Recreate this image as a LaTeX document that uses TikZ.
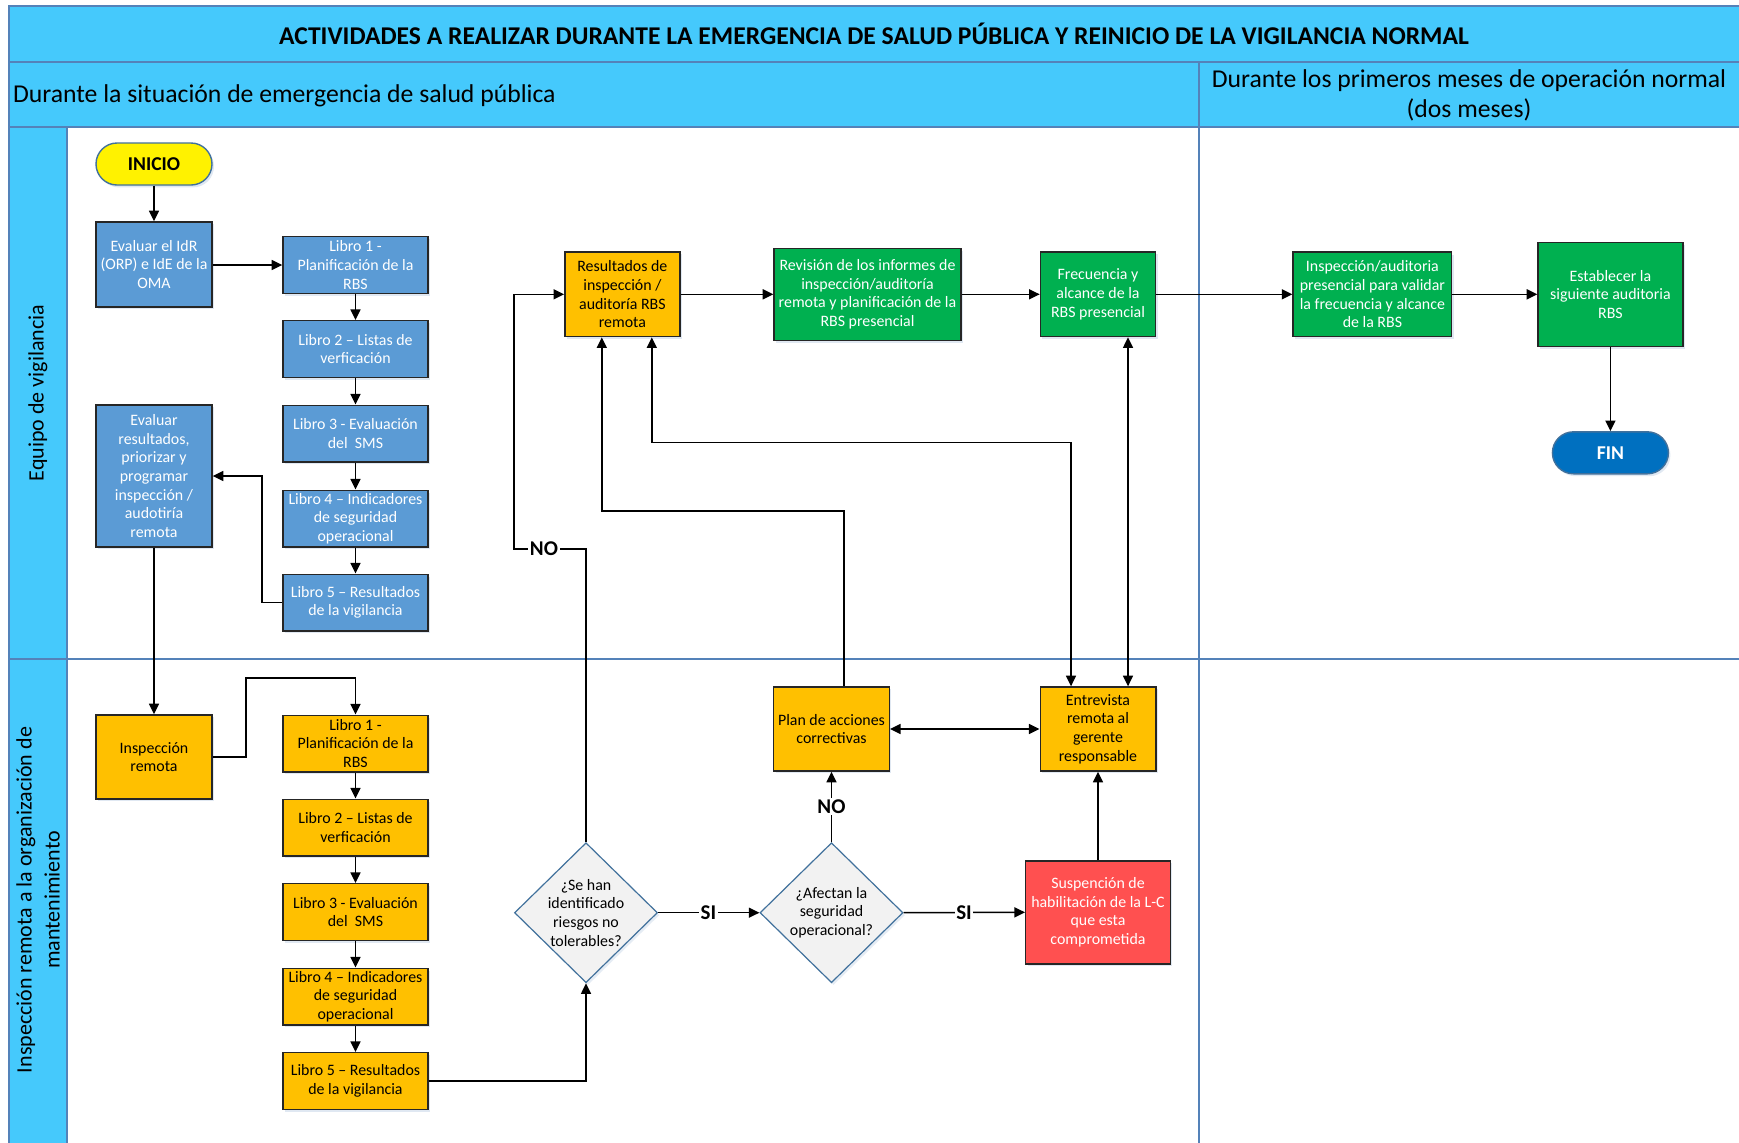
\documentclass[tikz,border=0pt]{standalone}
\usepackage{fontspec}
\setmainfont{Carlito}
\usetikzlibrary{arrows.meta,shapes.geometric,shadows}

\definecolor{hdr}{RGB}{69,201,252}
\definecolor{frameblue}{RGB}{84,130,185}
\definecolor{bluebox}{RGB}{91,155,213}
\definecolor{amber}{RGB}{255,192,0}
\definecolor{greenbox}{RGB}{0,176,80}
\definecolor{redbox}{RGB}{255,80,80}
\definecolor{finblue}{RGB}{0,112,192}
\definecolor{decfill}{RGB}{242,242,242}
\definecolor{decline}{RGB}{65,113,156}

\tikzset{
  boxbase/.style={rectangle, draw=black!85, line width=0.7pt, align=center,
    inner sep=0.5pt, font=\fontsize{7.95}{9.3}\selectfont,
    drop shadow={shadow xshift=1pt, shadow yshift=-1.2pt, opacity=0.18, fill=frameblue}},
  bluebx/.style={boxbase, fill=bluebox, text=white},
  ambbx/.style={boxbase, fill=amber, text=black},
  grnbx/.style={boxbase, fill=greenbox, text=white},
  redbx/.style={boxbase, fill=redbox, text=white},
  libro/.style={minimum width=72.5pt, minimum height=28.3pt},
  terminal/.style={rectangle, rounded corners=10.5pt, line width=0.7pt, draw=decline,
    minimum width=58pt, minimum height=21pt, font=\bfseries\fontsize{9.8}{11}\selectfont,
    drop shadow={shadow xshift=1pt, shadow yshift=-1.2pt, opacity=0.18, fill=frameblue}},
  decision/.style={diamond, draw=decline, line width=0.6pt, fill=decfill, inner sep=0pt,
    minimum width=71.5pt, minimum height=70pt,
    drop shadow={shadow xshift=1pt, shadow yshift=-1.2pt, opacity=0.15, fill=frameblue}},
  dectext/.style={align=center, font=\fontsize{7.95}{9.3}\selectfont, inner sep=0pt},
  arr/.style={draw=black, line width=0.75pt, -{Triangle[length=5.3pt,width=5pt]}},
  arrtwo/.style={draw=black, line width=0.75pt, {Triangle[length=5.3pt,width=5pt]}-{Triangle[length=5.3pt,width=5pt]}},
  lbl/.style={fill=white, inner sep=0.8pt, font=\bfseries\fontsize{10.5}{12}\selectfont},
  lanetxt/.style={rotate=90, align=center, font=\fontsize{11}{14}\selectfont},
  grid/.style={draw=frameblue, line width=1pt}
}

\begin{document}
\begin{tikzpicture}[x=0.5pt, y=-0.5pt]
\useasboundingbox (0,0) rectangle (1739,1142);

% ---- swimlane frame (runs past the right and bottom edges) ----
\fill[white] (0,0) rectangle (1739,1142);
\fill[hdr] (9,6) rectangle (1750,127);
\fill[hdr] (9,127) rectangle (67,1150);
\draw[grid] (1750,6) -- (9,6) -- (9,1150);
\draw[grid] (9,62) -- (1750,62);
\draw[grid] (9,127) -- (1750,127);
\draw[grid] (9,659) -- (1750,659);
\draw[grid] (67,127) -- (67,1150);
\draw[grid] (1199,62) -- (1199,1150);

% ---- headings ----
\node[font=\bfseries\fontsize{12.8}{15}\selectfont] (title) at (874,34)
  {ACTIVIDADES A REALIZAR DURANTE LA EMERGENCIA DE SALUD PÚBLICA Y REINICIO DE LA VIGILANCIA NORMAL};
\node[anchor=west, font=\fontsize{12.85}{15}\selectfont] (phaseA) at (6,96)
  {Durante la situación de emergencia de salud pública};
\node[align=center, font=\fontsize{12.85}{15}\selectfont] (phaseB) at (1469,95)
  {Durante los primeros meses de operación normal\\(dos meses)};
\node[lanetxt] (laneA) at (38,393) {Equipo de vigilancia};
\node[lanetxt] (laneB) at (38,900) {Inspección remota a la organización de\\mantenimiento};

% ---- surveillance team lane ----
\node[terminal, fill=yellow] (inicio) at (154,164) {INICIO};
\node[bluebx, minimum width=58pt, minimum height=42.5pt] (evalidr) at (154,264.5)
  {Evaluar el IdR\\(ORP) e IdE de la\\OMA};
\node[bluebx, libro] (b1) at (355.5,265) {Libro 1 -\\Planificación de la\\RBS};
\node[bluebx, libro] (b2) at (355.5,349) {Libro 2 – Listas de\\verficación};
\node[bluebx, libro] (b3) at (355.5,433.5) {Libro 3 - Evaluación\\del \ SMS};
\node[bluebx, libro] (b4) at (355.5,518.5) {Libro 4 – Indicadores\\de seguridad\\operacional};
\node[bluebx, libro] (b5) at (355.5,602.5) {Libro 5 – Resultados\\de la vigilancia};
\node[bluebx, minimum width=58pt, minimum height=71pt] (evalres) at (154,476)
  {Evaluar\\resultados,\\priorizar y\\programar\\inspección /\\audotiría\\remota};

\node[ambbx, minimum width=57.6pt, minimum height=42.3pt] (res) at (622.4,294.3)
  {Resultados de\\inspección /\\auditoría RBS\\remota};
\node[grnbx, minimum width=93.5pt, minimum height=46pt] (rev) at (867.5,294.3)
  {Revisión de los informes de\\inspección/auditoría\\remota y planificación de la\\RBS presencial};
\node[grnbx, minimum width=57.6pt, minimum height=42.3pt] (frec) at (1098,294.3)
  {Frecuencia y\\alcance de la\\RBS presencial};
\node[grnbx, minimum width=79.3pt, minimum height=42.2pt] (insppres) at (1372.4,294.3)
  {Inspección/auditoria\\presencial para validar\\la frecuencia y alcance\\de la RBS};
\node[grnbx, minimum width=72.4pt, minimum height=52pt] (estab) at (1610.4,294.3)
  {Establecer la\\siguiente auditoria\\RBS};
\node[terminal, fill=finblue, text=white] (fin) at (1610.4,452.8) {FIN};

% ---- remote inspection lane ----
\node[ambbx, minimum width=58pt, minimum height=42pt] (insp) at (154,757) {Inspección\\remota};
\node[ambbx, libro] (y1) at (355.5,743.5) {Libro 1 -\\Planificación de la\\RBS};
\node[ambbx, libro] (y2) at (355.5,827.5) {Libro 2 – Listas de\\verficación};
\node[ambbx, libro] (y3) at (355.5,912) {Libro 3 - Evaluación\\del \ SMS};
\node[ambbx, libro] (y4) at (355.5,996.5) {Libro 4 – Indicadores\\de seguridad\\operacional};
\node[ambbx, libro] (y5) at (355.5,1081) {Libro 5 – Resultados\\de la vigilancia};

\node[decision] (d1) at (586,912.7) {};
\node[dectext] (d1t) at (586,912.7) {¿Se han\\identificado\\riesgos no\\tolerables?};
\node[decision] (d2) at (831.5,912.7) {};
\node[dectext] (d2t) at (831.5,912.7) {¿Afectan la\\seguridad\\operacional?};

\node[redbx, minimum width=72.3pt, minimum height=51.5pt] (susp) at (1098,912.3)
  {Suspención de\\habilitación de la L-C\\que esta\\comprometida};
\node[ambbx, minimum width=57.8pt, minimum height=42pt] (plan) at (831.5,729)
  {Plan de acciones\\correctivas};
\node[ambbx, minimum width=57.8pt, minimum height=42pt] (entre) at (1098,729)
  {Entrevista\\remota al\\gerente\\responsable};

% ---- bend points ----
\coordinate (kA) at (262,476);
\coordinate (kB) at (246,678);
\coordinate (kC) at (514,549);
\coordinate (kD) at (601.8,511);
\coordinate (kE) at (651.8,442.7);

% ---- connectors: surveillance lane ----
\draw[arr] (inicio) -- (evalidr);
\draw[arr] (evalidr.east |- b1) -- (b1.west);
\draw[arr] (b1) -- (b2);
\draw[arr] (b2) -- (b3);
\draw[arr] (b3) -- (b4);
\draw[arr] (b4) -- (b5);
\draw[arr] (b5.west) -| (kA) -- (evalres.east);
\draw[arr] (evalres) -- (insp);
\draw[arr] (res) -- (rev);
\draw[arr] (rev) -- (frec);
\draw[arr] (frec) -- (insppres);
\draw[arr] (insppres) -- (estab);
\draw[arr] (estab) -- (fin);

% ---- connectors: remote inspection lane ----
\draw[arr] (insp.east) -| (kB) -| (y1.north);
\draw[arr] (y1) -- (y2);
\draw[arr] (y2) -- (y3);
\draw[arr] (y3) -- (y4);
\draw[arr] (y4) -- (y5);
\draw[arr] (y5.east) -| (d1.south);
\draw[arr] (d1.north) |- (kC) |- (res.west);
\node[lbl] (noA) at (544,549) {NO};
\draw[arr] (d1.east) -- (d2.west);
\node[lbl] (siA) at (708.5,912.7) {SI};
\draw[arr] (d2.east) -- (susp.west);
\node[lbl] (siB) at (964,912.7) {SI};
\draw[arr] (d2.north) -- (plan.south);
\node[lbl] (noB) at (831.5,806.7) {NO};
\draw[arr] (susp) -- (entre);
\draw[arrtwo] (plan) -- (entre);
\draw[arr] ([xshift=6.25pt]plan.north) |- (kD) -- (kD |- res.south);
\draw[arrtwo] ([xshift=-13.5pt]entre.north) |- (kE) -- (kE |- res.south);
\draw[arrtwo] ([xshift=15pt]frec.south) -- ([xshift=15pt]entre.north);

\end{tikzpicture}
\end{document}
